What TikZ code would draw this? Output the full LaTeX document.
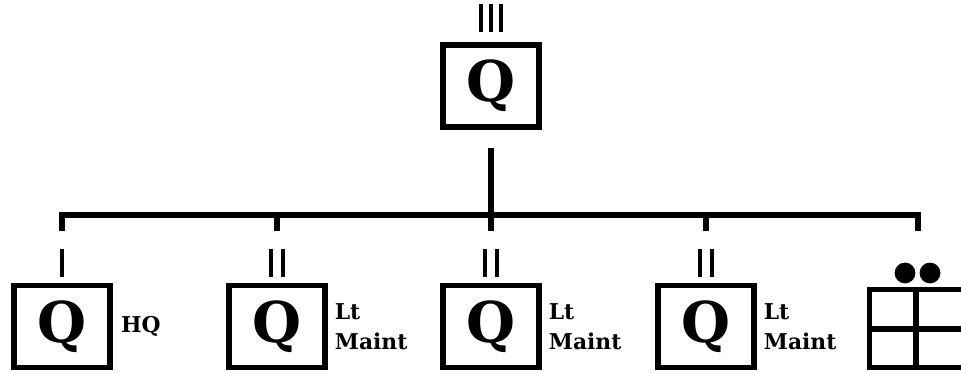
\documentclass[tikz,border=0pt]{standalone}
\usepackage{fontspec}
\setmainfont{DejaVu Serif}
\usetikzlibrary{positioning}

\tikzset{
    unit/.style={draw, line width=4pt, minimum width=2.4cm, minimum height=2.05cm,
                 inner sep=0pt, font=\fontsize{40}{40}\selectfont\bfseries},
    role/.style={anchor=west, inner sep=0pt, align=left,
                 font=\fontsize{15.5}{21}\selectfont\bfseries},
    link/.style={line width=4pt},
    echelon/.style={line width=2.8pt}
}

\begin{document}
\begin{tikzpicture}

    \useasboundingbox (0,0) rectangle (24.025,9.325);

    % =================================================================
    % 1. UNIT BOXES
    % =================================================================
    \node[unit] (Q0) at (12.275,7.175) {Q};

    \node[unit] (Q1) at (1.55,1.1625) {Q};
    \node[unit] (Q2) at (6.925,1.1625) {Q};
    \node[unit] (Q3) at (12.275,1.1625) {Q};
    \node[unit] (Q4) at (17.65,1.1625) {Q};

    % Supply symbol (cut by the right edge)
    \draw[link] (21.74,0.1375) rectangle (24.4,2.0875);
    \draw[link] (22.9,0.1375) -- (22.9,2.0875);
    \draw[link] (21.74,1.1) -- (24.4,1.1);
    \fill (22.625,2.5) circle (0.26);
    \fill (23.25,2.5) circle (0.26);

    % =================================================================
    % 2. CONNECTORS
    % =================================================================
    \coordinate (stem) at (12.275,5.625);
    \coordinate (bus) at (12.275,3.95);
    \coordinate (d1) at (1.55,3.55);
    \coordinate (d2) at (6.925,3.55);
    \coordinate (d3) at (12.275,3.55);
    \coordinate (d4) at (17.65,3.55);
    \coordinate (d5) at (22.95,3.55);

    % Line down from the top unit
    \draw[link] (stem) -- (d3);

    % Horizontal bus with its outer drops
    \draw[link] (d1) -- (d1 |- bus) -- (d5 |- bus) -- (d5);

    % Inner drops
    \draw[link] (d2 |- bus) -- (d2);
    \draw[link] (d4 |- bus) -- (d4);

    % =================================================================
    % 3. ECHELON MARKS AND LABELS
    % =================================================================
    \foreach \x in {-0.26,0,0.26}
        \draw[echelon] ([xshift=\x cm]Q0.north) ++(0,0.25) -- ++(0,0.7);

    \draw[echelon] (Q1.north) ++(0,0.14) -- ++(0,0.7);
    \foreach \u in {Q2,Q3,Q4}
        \foreach \x in {-0.14,0.14}
            \draw[echelon] ([xshift=\x cm]\u.north) ++(0,0.14) -- ++(0,0.7);

    \node[role] (r1) at ([xshift=0.2cm]Q1.east) {HQ};
    \node[role] (r2) at ([xshift=0.17cm]Q2.east) {Lt\\Maint};
    \node[role] (r3) at ([xshift=0.17cm]Q3.east) {Lt\\Maint};
    \node[role] (r4) at ([xshift=0.17cm]Q4.east) {Lt\\Maint};

\end{tikzpicture}
\end{document}
